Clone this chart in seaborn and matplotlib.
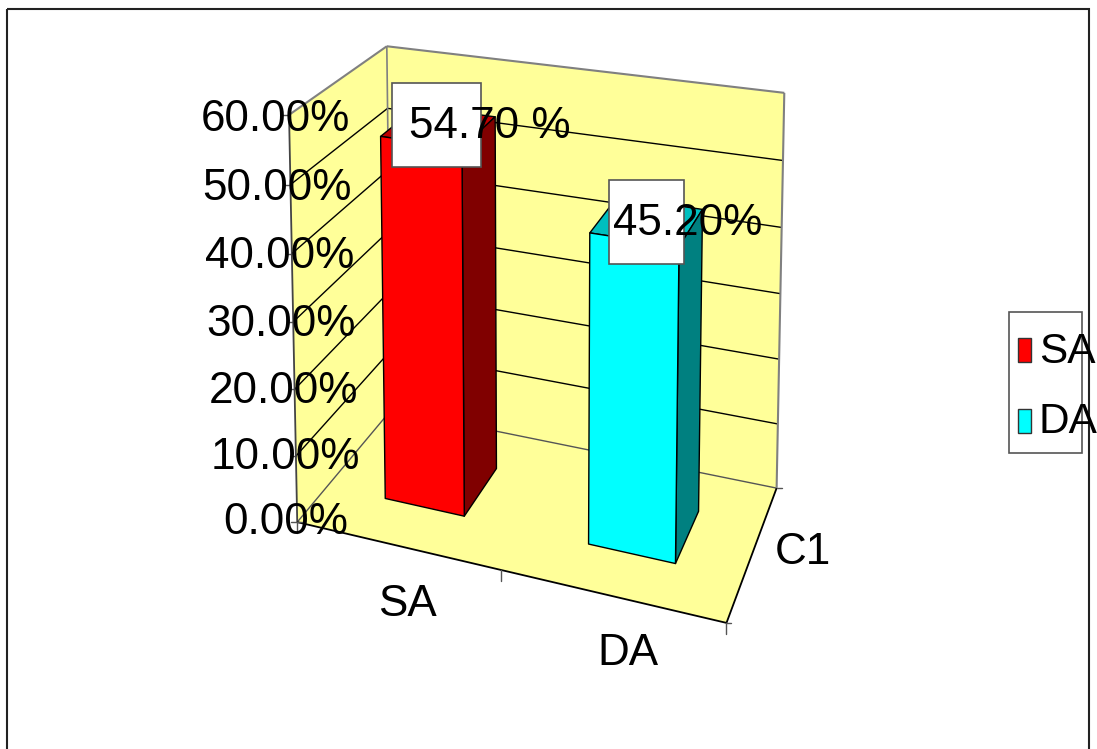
import numpy as np
import pandas as pd
import matplotlib
matplotlib.use("Agg")
import matplotlib.pyplot as plt
from matplotlib.patches import Polygon, Rectangle
import seaborn as sns

# Chart data
categories = ["SA", "DA"]
values = [54.7, 45.2]
value_labels = ["54.70 %", "45.20%"]
bar_colors = ["#FF0000", "#00FFFF"]
y_ticks = [0, 10, 20, 30, 40, 50, 60]
y_tick_labels = ["0.00%", "10.00%", "20.00%", "30.00%", "40.00%", "50.00%", "60.00%"]
series_label = "C1"

sns.set_theme(style="white")
plt.rcParams["font.family"] = ["Liberation Sans", "DejaVu Sans"]
plt.rcParams["text.color"] = "black"
FONT = 31.7
LEGEND_FONT = 30.5
WALL = "#FFFF99"
EDGE = "#808080"

W, H = 1097, 749
fig = plt.figure(figsize=(W / 100, H / 100), dpi=100, facecolor="white")

# Bars are laid out by seaborn on a flat helper axes, then projected into the box
model_ax = fig.add_axes([0, 0, 1, 1])
sns.barplot(data=pd.DataFrame({"cat": categories, "val": values}), x="cat", y="val",
            hue="cat", palette=bar_colors, saturation=1, width=0.4, legend=False, ax=model_ax)
model_bars = list(model_ax.patches)
model_ax.set_visible(False)

ax = fig.add_axes([0, 0, 1, 1])
ax.set_xlim(0, W)
ax.set_ylim(H, 0)
ax.axis("off")

# Perspective camera: calibrated on the corners of the 3D box (category, value, depth)
box_pts = np.array([(0, 0, 0), (2, 0, 0), (2, 0, 1), (0, 0, 1),
                    (0, 60, 0), (0, 60, 1), (2, 60, 1), (1, 0, 0)], float)
screen_pts = np.array([(298, 521), (726, 624), (777, 487), (390, 411),
                       (288, 115), (388, 46), (784, 93), (502, 570)], float)
rows = []
for (X, Y, Z), (u, v) in zip(box_pts, screen_pts):
    rows.append([X, Y, Z, 1, 0, 0, 0, 0, -u * X, -u * Y, -u * Z, -u])
    rows.append([0, 0, 0, 0, X, Y, Z, 1, -v * X, -v * Y, -v * Z, -v])
camera = np.linalg.svd(np.array(rows))[2][-1].reshape(3, 4)


def proj(X, Y, Z):
    h = camera @ np.array([X, Y, Z, 1.0])
    return h[:2] / h[2]


def face(points, **kw):
    ax.add_patch(Polygon([proj(*p) for p in points], closed=True, **kw))


def seg(a, b, color="black", lw=1.0, z=2):
    pa, pb = proj(*a), proj(*b)
    ax.plot([pa[0], pb[0]], [pa[1], pb[1]], color=color, lw=lw, zorder=z,
            solid_capstyle="butt")


def tick(p, dx0, dx1, dy0, dy1):
    ax.plot([p[0] + dx0, p[0] + dx1], [p[1] + dy0, p[1] + dy1],
            color="#555555", lw=1, zorder=2)


# Outer chart frame, open past the lower edge of the canvas
ax.add_patch(Rectangle((6.5, 9), 1082.5, 760, fill=False, ec="#222222", lw=1.5, zorder=1))

# Walls and floor
top = y_ticks[-1]
face([(0, 0, 0), (0, top, 0), (0, top, 1), (0, 0, 1)], fc=WALL, ec="none", zorder=1)
face([(0, 0, 1), (0, top, 1), (2, top, 1), (2, 0, 1)], fc=WALL, ec="none", zorder=1)
face([(0, 0, 0), (2, 0, 0), (2, 0, 1), (0, 0, 1)], fc=WALL, ec="none", zorder=1)

# Value gridlines along both walls, with small ticks on the front edge
for t in y_ticks[:-1]:
    c = "#555555" if t == 0 else "black"
    seg((0, t, 0), (0, t, 1), color=c, z=2)
    seg((0, t, 1), (2, t, 1), color=c, z=2)
for t in y_ticks:
    tick(proj(0, t, 0), -6, 0, 0, 0)

# Box outline
seg((0, top, 0), (0, top, 1), EDGE, 1.5)
seg((0, top, 1), (2, top, 1), EDGE, 1.5)
seg((0, top, 1), (0, 0, 1), EDGE, 1.2)
seg((2, top, 1), (2, 0, 1), EDGE, 1.5)
seg((0, 0, 0), (0, top, 0), "#444444", 1.3)
seg((0, 0, 0), (2, 0, 0), "black", 1.3)
seg((2, 0, 0), (2, 0, 1), "black", 1.3)

# Ticks on the floor edges
for a in (0, 1, 2):
    tick(proj(a, 0, 0), 0, 0, 0, 11)
tick(proj(0, 0, 0), 0, 7, 0, 0)
tick(proj(2, 0, 0), 0, 5, 0, 0)
tick(proj(2, 0, 1), 0, 5, 0, 0)

# Bars: front, side and top faces from the seaborn rectangles
Z0, Z1 = 0.3, 0.7
for bar in model_bars:
    x0 = bar.get_x() + 0.5
    x1 = x0 + bar.get_width()
    v = bar.get_height()
    base = np.array(bar.get_facecolor()[:3])
    edge = dict(ec="black", lw=1.0, zorder=3, joinstyle="round")
    face([(x0, v, Z0), (x1, v, Z0), (x1, v, Z1), (x0, v, Z1)], fc=tuple(base * 0.75), **edge)
    face([(x1, 0, Z0), (x1, v, Z0), (x1, v, Z1), (x1, 0, Z1)], fc=tuple(base * 0.5), **edge)
    face([(x0, 0, Z0), (x1, 0, Z0), (x1, v, Z0), (x0, v, Z0)], fc=tuple(base), **edge)

# Value tick labels, offset from the front wall edge and drifting slightly with height
for t, lab in zip(y_ticks, y_tick_labels):
    p = proj(0, t, 0)
    xoff = 51 if t == 0 else 61 + (top - t) * 0.065
    ax.text(p[0] + xoff, p[1] + 12 + t * 0.0667, lab, fontsize=FONT,
            ha="right", va="baseline", zorder=6)

# Category and series labels
ax.text(407, 616, categories[0], fontsize=FONT, ha="center", va="baseline", zorder=6)
ax.text(627.5, 665, categories[1], fontsize=FONT, ha="center", va="baseline", zorder=6)
ax.text(802.5, 564, series_label, fontsize=FONT, ha="center", va="baseline", zorder=6)

# Data label boxes with text running past their right sides
label_boxes = [(391.5, 83, 89, 84), (608.5, 180, 75, 84)]
label_pos = [(409, 138), (613, 235)]
for lab, (bx, by, bw, bh), (tx, ty) in zip(value_labels, label_boxes, label_pos):
    ax.add_patch(Rectangle((bx, by), bw, bh, fc="white", ec="#555555", lw=1.2, zorder=4))
    ax.text(tx, ty, lab, fontsize=FONT, ha="left", va="baseline", zorder=7)

# Legend
ax.add_patch(Rectangle((1009, 312), 73, 141, fc="white", ec="#555555", lw=1.2, zorder=4))
legend_rows = zip(categories, bar_colors, (350, 421), (1039, 1038), (363, 433))
for name, color, yc, tx, ty in legend_rows:
    ax.add_patch(Rectangle((1018, yc - 12), 13, 24, fc=color, ec="#333333", lw=1.0, zorder=5))
    ax.text(tx, ty, name, fontsize=LEGEND_FONT, ha="left", va="baseline", zorder=7)

fig.savefig("out.png", dpi=100, facecolor="white")
